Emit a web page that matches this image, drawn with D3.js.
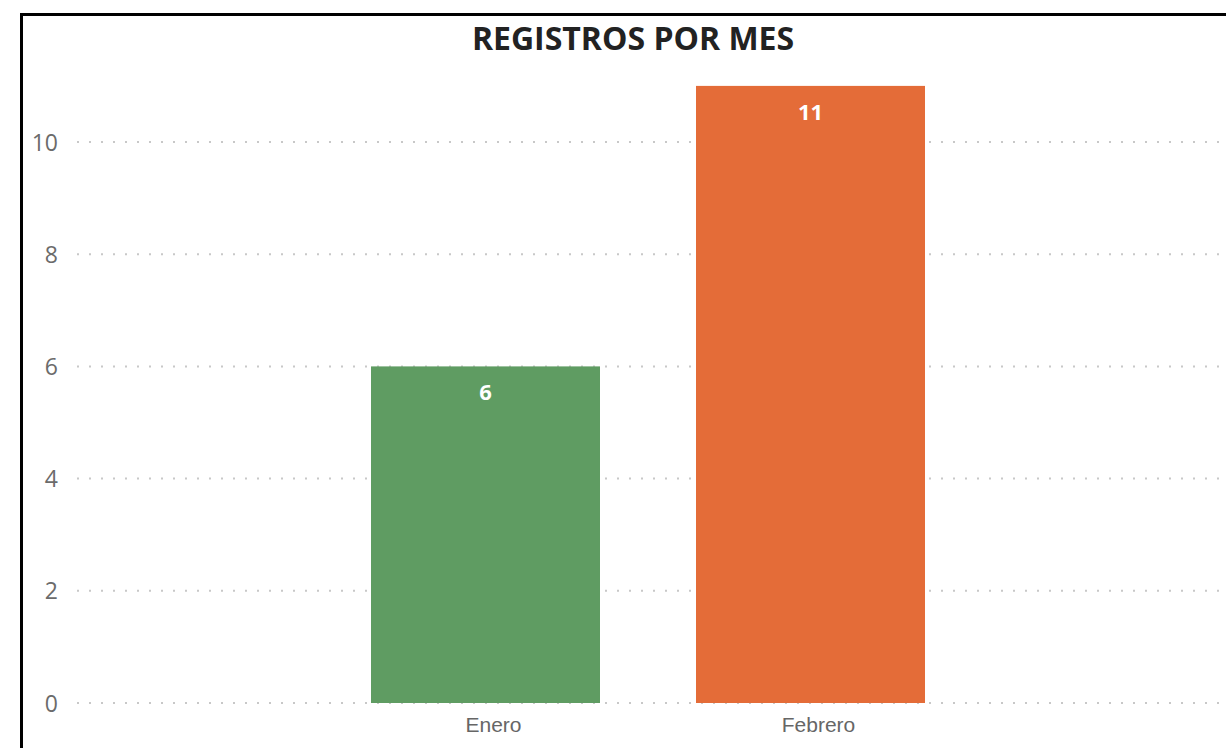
<!DOCTYPE html>
<html>
<head>
<meta charset="utf-8">
<script src="https://cdn.jsdelivr.net/npm/d3@7"></script>
<style>
  body { margin: 0; background: #fff; }
  svg { display: block; }
</style>
</head>
<body>
<div id="chart"></div>
<script>
var months = ["Enero", "Febrero"];
var counts = [6, 11];
var barColors = ["#5f9c62", "#e46c38"];
var yTicks = [0, 2, 4, 6, 8, 10];
var titleText = "REGISTROS POR MES";

var W = 1226, H = 748;

var svg = d3.select("#chart")
    .append("svg")
    .attr("width", W)
    .attr("height", H);

// frame (only top and left edges are visible)
svg.append("path")
    .attr("d", "M21.5," + H + "V14.5H" + W)
    .attr("fill", "none")
    .attr("stroke", "#000")
    .attr("stroke-width", 3);

var y = d3.scaleLinear().domain([0, 10]).range([703, 142]);

var x = d3.scaleBand()
    .domain(months)
    .range([323, 973])
    .paddingInner(0.2954)
    .paddingOuter(0.1477);

// dotted grid
var grid = svg.append("g");

grid.selectAll("line")
    .data(yTicks)
    .enter()
    .append("line")
    .attr("x1", 77)
    .attr("x2", W)
    .attr("y1", function(d) { return y(d); })
    .attr("y2", function(d) { return y(d); })
    .attr("stroke", "#c8c8c8")
    .attr("stroke-width", 2)
    .attr("stroke-dasharray", "2,10");

// y axis labels
var yAxis = d3.axisLeft(y)
    .tickValues(yTicks)
    .tickSize(0)
    .tickPadding(0);

var yg = svg.append("g")
    .attr("transform", "translate(58,0)")
    .call(yAxis);
yg.select(".domain").remove();
yg.selectAll("text")
    .attr("fill", "#6b6b6b")
    .attr("font-family", "'Open Sans', 'Noto Sans', sans-serif")
    .attr("font-size", "23px")
    .attr("dy", "0.35em");

// bars
svg.selectAll(".bar")
    .data(counts)
    .enter()
    .append("rect")
    .attr("class", "bar")
    .attr("x", function(d, i) { return x(months[i]); })
    .attr("y", function(d) { return y(d); })
    .attr("width", x.bandwidth())
    .attr("height", function(d) { return y(0) - y(d); })
    .attr("fill", function(d, i) { return barColors[i]; });

// value labels inside bars
svg.selectAll(".val")
    .data(counts)
    .enter()
    .append("text")
    .attr("class", "val")
    .attr("x", function(d, i) { return x(months[i]) + x.bandwidth() / 2; })
    .attr("y", function(d) { return y(d) + 34; })
    .attr("text-anchor", "middle")
    .attr("fill", "#fff")
    .attr("font-family", "'Open Sans', 'Noto Sans', sans-serif")
    .attr("font-weight", "bold")
    .attr("font-size", "22px")
    .text(function(d) { return d; });

// x axis labels
var xAxis = d3.axisBottom(x).tickSize(0).tickPadding(0);
var xg = svg.append("g")
    .attr("transform", "translate(8,711)")
    .call(xAxis);
xg.select(".domain").remove();
xg.selectAll("text")
    .attr("fill", "#666")
    .attr("font-family", "'Liberation Sans', Arial, sans-serif")
    .attr("font-size", "21px")
    .attr("dy", "1em");

// title
svg.append("text")
    .attr("x", 633)
    .attr("y", 50)
    .attr("text-anchor", "middle")
    .attr("fill", "#222")
    .attr("font-family", "'Open Sans', 'Noto Sans', sans-serif")
    .attr("font-weight", "bold")
    .attr("font-size", "32px")
    .text(titleText);
</script>
</body>
</html>
